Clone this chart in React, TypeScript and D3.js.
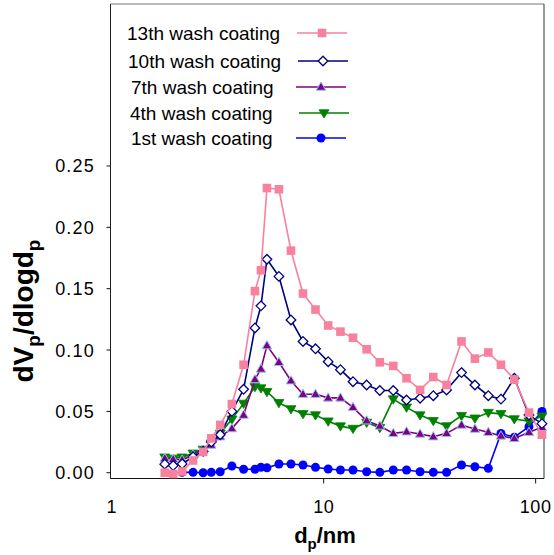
import React from "react";
import * as d3 from "d3";

// pore diameter (nm)
const DIAMETERS = [1.78, 1.95, 2.15, 2.42, 2.70, 2.95, 3.25, 3.69, 4.19, 4.74, 5.06, 5.40, 6.15, 7.01, 7.99, 9.15, 10.5, 12.0, 13.75, 15.95, 18.4, 21.3, 24.6, 28.5, 32.9, 38.0, 44.7, 51.7, 59.8, 68.6, 79.3, 93.0, 107.1];

const WASH13 = [0.000, -0.001, 0.001, 0.010, 0.017, 0.028, 0.039, 0.056, 0.088, 0.148, 0.165, 0.232, 0.231, 0.181, 0.146, 0.133, 0.120, 0.115, 0.110, 0.1006, 0.090, 0.087, 0.077, 0.0675, 0.078, 0.0715, 0.107, 0.093, 0.098, 0.088, 0.076, 0.049, 0.031];
const WASH10 = [0.0070, 0.0058, 0.0072, 0.0130, 0.0175, 0.025, 0.031, 0.050, 0.068, 0.118, 0.136, 0.174, 0.160, 0.1245, 0.107, 0.101, 0.0905, 0.084, 0.0742, 0.0715, 0.067, 0.067, 0.0593, 0.0607, 0.0628, 0.0675, 0.0816, 0.0715, 0.0628, 0.060, 0.077, 0.047, 0.040];
const WASH7 = [0.0117, 0.0110, 0.0105, 0.0144, 0.0185, 0.0226, 0.0294, 0.036, 0.047, 0.076, 0.0846, 0.1036, 0.090, 0.075, 0.064, 0.064, 0.061, 0.061, 0.0533, 0.0424, 0.0381, 0.0321, 0.0334, 0.0316, 0.0294, 0.0321, 0.0389, 0.0356, 0.0330, 0.030, 0.028, 0.033, 0.037];
const WASH4 = [0.0126, 0.0117, 0.0126, 0.0158, 0.019, 0.024, 0.032, 0.0435, 0.0565, 0.070, 0.069, 0.066, 0.057, 0.052, 0.048, 0.047, 0.042, 0.038, 0.036, 0.041, 0.0367, 0.060, 0.0533, 0.047, 0.0424, 0.0381, 0.0465, 0.0444, 0.049, 0.048, 0.0438, 0.042, 0.046];
const WASH1 = [null, null, 0.0003, 0.0003, 0.0, 0.0003, 0.0008, 0.0055, 0.0028, 0.0028, 0.0044, 0.0040, 0.0071, 0.0071, 0.0063, 0.0044, 0.0030, 0.0022, 0.0022, 0.0008, 0.0003, 0.0022, 0.0022, 0.0008, 0.0003, 0.0003, 0.0063, 0.0049, 0.0036, 0.032, 0.029, 0.0375, 0.050];

const SERIES_NAMES = ["13th wash coating", "10th wash coating", "7th wash coating", "4th wash coating", "1st wash coating"];
const Y_TICKS = [0, 0.05, 0.1, 0.15, 0.2, 0.25];
const Y_TICK_LABELS = ["0.00", "0.05", "0.10", "0.15", "0.20", "0.25"];
const X_TICKS = [1, 10, 100];
const X_TICK_LABELS = ["1", "10", "100"];

const FONT = "'Liberation Sans', Arial, Helvetica, sans-serif";

type Style = { color: string; marker: string; fill: string; stroke: string };
const STYLES: Style[] = [
  { color: "#F7819F", marker: "square", fill: "#F7819F", stroke: "#F7819F" },
  { color: "#000080", marker: "diamond", fill: "#FFFFFF", stroke: "#000080" },
  { color: "#800080", marker: "triangle", fill: "#800080", stroke: "#8EC5F2" },
  { color: "#008000", marker: "triangleDown", fill: "#008000", stroke: "#008000" },
  { color: "#0000FF", marker: "circle", fill: "#0000FF", stroke: "#0000FF" },
];

function Marker({ kind, x, y, fill, stroke }: { kind: string; x: number; y: number; fill: string; stroke: string }) {
  if (kind === "square") return <rect x={x - 4.3} y={y - 4.3} width={8.6} height={8.6} fill={fill} />;
  if (kind === "diamond") {
    const r = 4.8;
    return <path d={`M${x},${y - r}L${x + r},${y}L${x},${y + r}L${x - r},${y}Z`} fill={fill} stroke={stroke} strokeWidth={1.3} />;
  }
  if (kind === "triangle") {
    const r = 5;
    return <path d={`M${x},${y - r}L${x + r * 0.95},${y + r * 0.65}L${x - r * 0.95},${y + r * 0.65}Z`} fill={fill} stroke={stroke} strokeWidth={1} />;
  }
  if (kind === "triangleDown") {
    const r = 5;
    return <path d={`M${x},${y + r}L${x + r},${y - r * 0.65}L${x - r},${y - r * 0.65}Z`} fill={fill} stroke={stroke} strokeWidth={0.8} />;
  }
  return <circle cx={x} cy={y} r={4.5} fill={fill} />;
}

export default function App() {
  const W = 554, H = 555;
  const left = 110.5, right = 544, top = 4, bottom = 478.5;
  const x = d3.scaleLog().domain([1, 109.5]).range([111.7, 544]);
  const y = d3.scaleLinear().domain([-0.0047, 0.382]).range([bottom, top]);

  const allSeries = [WASH13, WASH10, WASH7, WASH4, WASH1];
  const drawOrder = [4, 3, 2, 1, 0];

  const line = d3
    .line<[number, number | null]>()
    .defined((d) => d[1] !== null)
    .x((d) => x(d[0]))
    .y((d) => y(d[1] as number));

  const legendRows = [33, 61, 87, 113, 138];
  const legendTextX = [127, 128, 131, 130, 131];
  const legendLineX = [297, 298, 296, 299, 296];

  return (
    <svg width={W} height={H} style={{ position: "absolute", left: 0, top: 0, background: "#fff" }} fontFamily={FONT}>
      <rect x={0} y={0} width={W} height={H} fill="#fff" />
      {/* frame */}
      <line x1={left} x2={right} y1={top} y2={top} stroke="#777" strokeWidth={1} />
      <line x1={right} x2={right} y1={top} y2={bottom} stroke="#555" strokeWidth={1.2} />
      <line x1={left} x2={left} y1={top} y2={bottom} stroke="#222" strokeWidth={1} />
      <line x1={left} x2={right} y1={bottom} y2={bottom} stroke="#111" strokeWidth={1.2} />

      {/* y ticks */}
      {Y_TICKS.map((t, i) => (
        <g key={"yt" + i}>
          <line x1={left - 4} x2={left} y1={y(t)} y2={y(t)} stroke="#111" strokeWidth={1} />
          <text x={95} y={y(t) + 6.5} textAnchor="end" fontSize={18} letterSpacing={1.2} fill="#000">
            {Y_TICK_LABELS[i]}
          </text>
        </g>
      ))}
      {/* x ticks */}
      {X_TICKS.map((t, i) => (
        <g key={"xt" + i}>
          {i > 0 && <line x1={x(t)} x2={x(t)} y1={bottom} y2={bottom + 5} stroke="#111" strokeWidth={1} />}
          <text x={x(t)} y={513} textAnchor="middle" fontSize={18} letterSpacing={0.5} fill="#000">
            {X_TICK_LABELS[i]}
          </text>
        </g>
      ))}

      {/* axis titles */}
      <text x={325} y={543} textAnchor="middle" fontSize={22} fontWeight="bold" fill="#000">
        d<tspan dy={6} fontSize={15}>p</tspan>
        <tspan dy={-6}>/nm</tspan>
      </text>
      <text transform="translate(33,311) rotate(-90)" textAnchor="middle" fontSize={28} fontWeight="bold" fill="#000">
        dV<tspan dy={7} fontSize={19}>p</tspan>
        <tspan dy={-7}>/dlogd</tspan>
        <tspan dy={7} fontSize={19}>p</tspan>
      </text>

      {/* series */}
      {drawOrder.map((si) => {
        const st = STYLES[si];
        const pts: [number, number | null][] = DIAMETERS.map((d, j) => [d, allSeries[si][j] as number | null]);
        return (
          <g key={"s" + si}>
            <path d={line(pts) || ""} fill="none" stroke={st.color} strokeWidth={1.6} />
            {pts
              .filter((p) => p[1] !== null)
              .map((p, j) => (
                <Marker key={j} kind={st.marker} x={x(p[0])} y={y(p[1] as number)} fill={st.fill} stroke={st.stroke} />
              ))}
          </g>
        );
      })}

      {/* legend */}
      {SERIES_NAMES.map((name, i) => {
        const st = STYLES[i];
        const ry = legendRows[i];
        const lx = legendLineX[i];
        return (
          <g key={"lg" + i}>
            <text x={legendTextX[i]} y={ry + 6.5} fontSize={19} fill="#000">
              {name}
            </text>
            <line x1={lx} x2={lx + 50} y1={ry} y2={ry} stroke={st.color} strokeWidth={1.6} />
            <Marker kind={st.marker} x={lx + 25} y={ry} fill={st.fill} stroke={st.stroke} />
          </g>
        );
      })}
    </svg>
  );
}
